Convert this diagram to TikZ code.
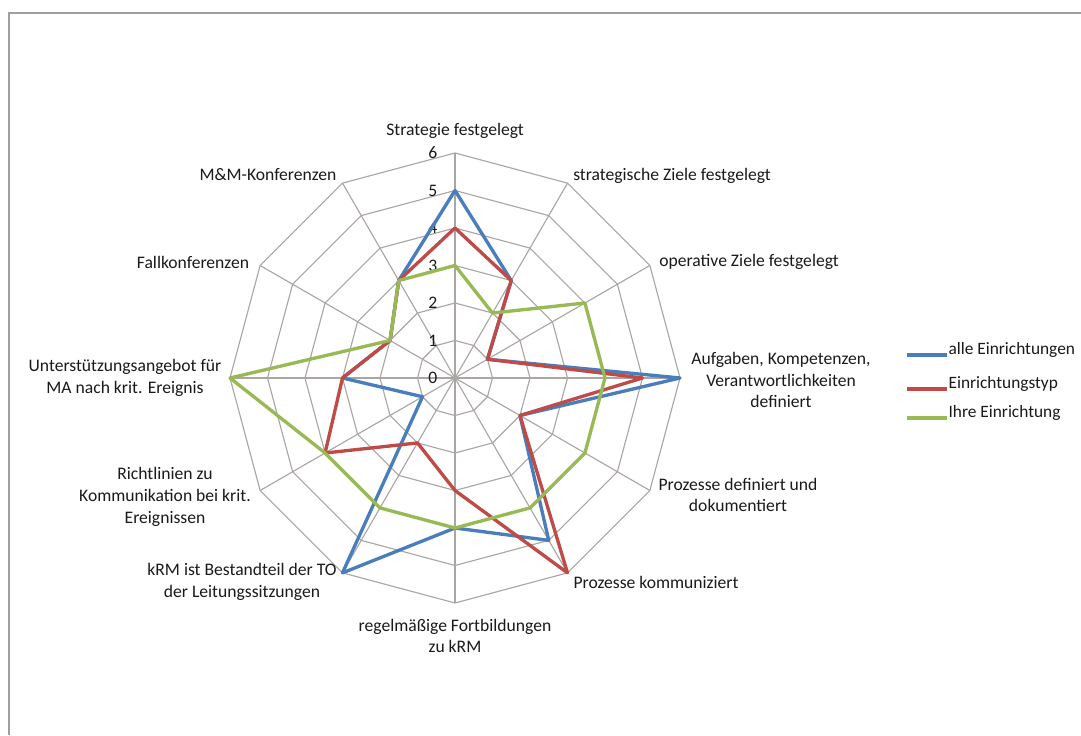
\documentclass[tikz,border=0pt]{standalone}
\usepackage{fontspec}
\setmainfont{Carlito}
\usetikzlibrary{calc}

\definecolor{serblue}{HTML}{4A7EBB}
\definecolor{serred}{HTML}{BE4B48}
\definecolor{sergreen}{HTML}{98B954}
\definecolor{gridgray}{HTML}{ABA6A3}
\definecolor{labeltext}{HTML}{1A1A1A}

\begin{document}
\begin{tikzpicture}[x=0.75pt,y=0.75pt,
    gridline/.style={gridgray,line width=0.85pt},
    series/.style={line width=2.5pt,line join=round},
    axislabel/.style={font=\fontsize{13.2}{16.2}\selectfont,text=labeltext,align=center,inner sep=0pt},
    ticklabel/.style={font=\fontsize{13.2}{15}\selectfont,text=labeltext,anchor=east,inner sep=1pt},
    legendtext/.style={font=\fontsize{13}{15}\selectfont,text=labeltext,anchor=west,inner sep=1pt}]
    \useasboundingbox (0,0) rectangle (1081,735);
    \fill[white] (0,0) rectangle (1081,735);

    % chart frame
    \draw[gray!75,line width=1.2pt] (9,0) -- (9,722) -- (1081,722);

    \begin{scope}[shift={(455,357)}]
      % grid rings and spokes
      \foreach \r in {1,...,6}
        \draw[gridline] (90:\r*37.5) \foreach \k in {1,...,11} {-- (90-\k*30:\r*37.5)} -- cycle;
      \foreach \k in {0,...,11}
        \draw[gridline] (0,0) -- (90-\k*30:225);

      % scale values
      \foreach \t in {0,...,6}
        \node[ticklabel] (tick\t) at (-16,\t*37.5) {\t};

      % axis labels
      \node[axislabel] (ax1) at (0,247) {Strategie festgelegt};
      \node[axislabel] (ax2) at (217,202) {strategische Ziele festgelegt};
      \node[axislabel] (ax3) at (294,116) {operative Ziele festgelegt};
      \node[axislabel] (ax4) at (326,-2) {Aufgaben, Kompetenzen,\\Verantwortlichkeiten\\definiert};
      \node[axislabel] (ax5) at (283,-117) {Prozesse definiert und\\dokumentiert};
      \node[axislabel] (ax6) at (201,-204) {Prozesse kommuniziert};
      \node[axislabel] (ax7) at (0,-258) {regelmäßige Fortbildungen\\zu kRM};
      \node[axislabel] (ax8) at (-213,-204) {kRM ist Bestandteil der TO\\der Leitungssitzungen};
      \node[axislabel] (ax9) at (-290,-119) {Richtlinien zu\\Kommunikation bei krit.\\Ereignissen};
      \node[axislabel] (ax10) at (-330,0) {Unterstützungsangebot für\\MA nach krit. Ereignis};
      \node[axislabel] (ax11) at (-262,116) {Fallkonferenzen};
      \node[axislabel] (ax12) at (-187,203) {M\&M-Konferenzen};

      % alle Einrichtungen
      \foreach \v [count=\i] in {5,3,1,6,2,5,4,6,1,3,2,3}
        \coordinate (b\i) at (120-\i*30:\v*37.5);
      \draw[series,serblue] (b1) \foreach \i in {2,...,12} {-- (b\i)} -- cycle;

      % Einrichtungstyp
      \foreach \v [count=\i] in {4,3,1,5,2,6,3,2,4,3,2,3}
        \coordinate (r\i) at (120-\i*30:\v*37.5);
      \draw[series,serred] (r1) \foreach \i in {2,...,12} {-- (r\i)} -- cycle;

      % Ihre Einrichtung
      \foreach \v [count=\i] in {3,2,4,4,4,4,4,4,4,6,2,3}
        \coordinate (g\i) at (120-\i*30:\v*37.5);
      \draw[series,sergreen] (g1) \foreach \i in {2,...,12} {-- (g\i)} -- cycle;
    \end{scope}

    % legend
    \node[legendtext] (leg1) at (947,385) {alle Einrichtungen};
    \node[legendtext] (leg2) at (947,351) {Einrichtungstyp};
    \node[legendtext] (leg3) at (947,322) {Ihre Einrichtung};
    \coordinate (lb) at (907,380);
    \coordinate (lr) at (907,346);
    \coordinate (lg) at (907,317);
    \draw[series,serblue] (lb) -- (lb -| leg1.west);
    \draw[series,serred] (lr) -- (lr -| leg2.west);
    \draw[series,sergreen] (lg) -- (lg -| leg3.west);
  \end{tikzpicture}
\end{document}
